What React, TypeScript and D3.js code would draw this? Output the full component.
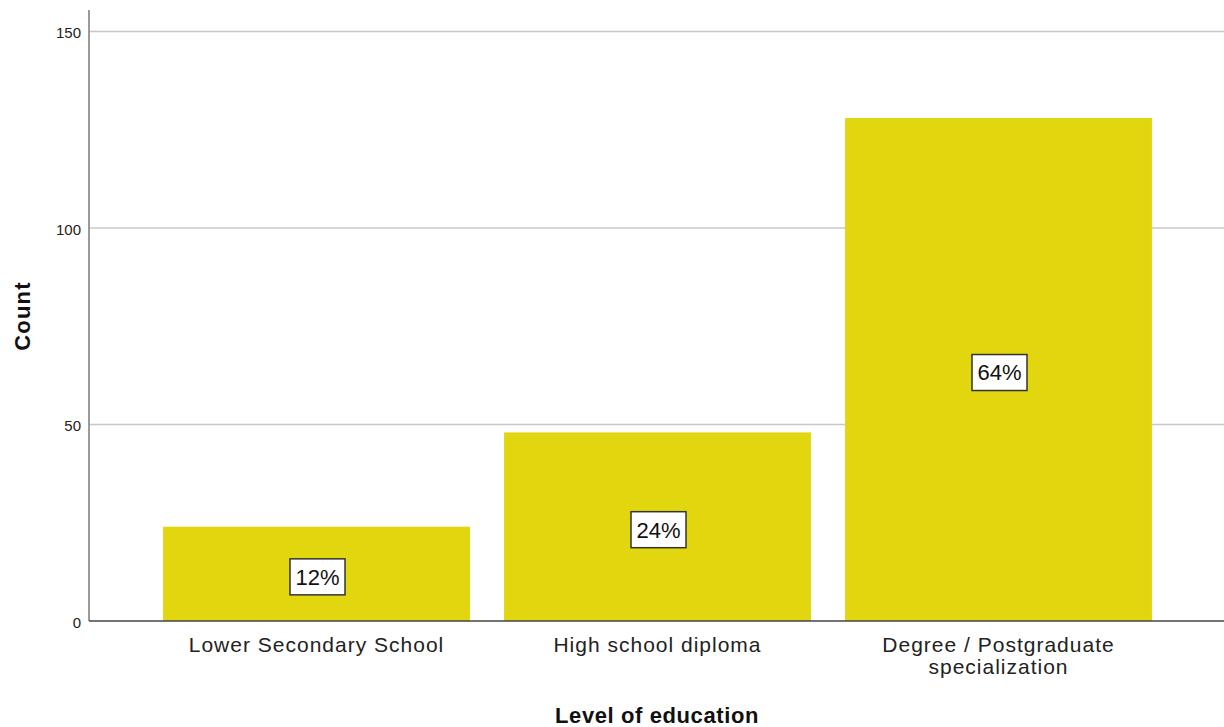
import React from "react";
import * as d3 from "d3";

const categories: string[][] = [
  ["Lower Secondary School"],
  ["High school diploma"],
  ["Degree / Postgraduate", "specialization"],
];
const counts: number[] = [24, 48, 128];
const percentLabels: string[] = ["12%", "24%", "64%"];
const yTicks: number[] = [0, 50, 100, 150];

const W = 1224;
const H = 727;
const FONT = "'Liberation Sans', Arial, sans-serif";

export default function App() {
  const axisX = 89;
  const y = d3.scaleLinear().domain([0, 155.5]).range([621, 10]);
  const x = d3
    .scaleBand<number>()
    .domain(counts.map((_, i) => i))
    .range([146, 1169])
    .paddingInner(0.1)
    .paddingOuter(0.05);

  return (
    <svg
      width={W}
      height={H}
      style={{ position: "absolute", left: 0, top: 0, background: "#fff" }}
      fontFamily={FONT}
    >
      {yTicks.map((t) =>
        t === 0 ? null : (
          <line key={"g" + t} x1={axisX} x2={W} y1={y(t)} y2={y(t)} stroke="#c8c8c8" strokeWidth={1.5} />
        )
      )}
      {yTicks.map((t) => (
        <text key={"t" + t} x={axisX - 8} y={y(t)} dy="0.45em" textAnchor="end" fontSize={15} fill="#222">
          {t}
        </text>
      ))}
      {counts.map((c, i) => (
        <rect
          key={"b" + i}
          x={x(i)!}
          y={y(c)}
          width={x.bandwidth()}
          height={y(0) - y(c)}
          fill="#e2d70f"
        />
      ))}
      <line x1={axisX} x2={axisX} y1={y.range()[1]} y2={y(0)} stroke="#9a9a9a" strokeWidth={2} />
      <line x1={axisX} x2={W} y1={y(0)} y2={y(0)} stroke="#444" strokeWidth={1.5} />
      {counts.map((c, i) => {
        const cx = x(i)! + x.bandwidth() / 2 + 1;
        const cy = (y(c) + y(0)) / 2 + 3;
        const bw = 55;
        const bh = 36;
        return (
          <g key={"l" + i}>
            <rect x={cx - bw / 2} y={cy - bh / 2} width={bw} height={bh} fill="#fff" stroke="#333" strokeWidth={1.5} />
            <text x={cx} y={cy} dy="0.36em" textAnchor="middle" fontSize={22} fill="#111">
              {percentLabels[i]}
            </text>
          </g>
        );
      })}
      {categories.map((lines, i) => {
        const cx = x(i)! + x.bandwidth() / 2;
        return (
          <text key={"c" + i} x={cx} y={652} textAnchor="middle" fontSize={21} letterSpacing={1} fill="#222">
            {lines.map((ln, j) => (
              <tspan key={j} x={cx} dy={j === 0 ? 0 : 22}>
                {ln}
              </tspan>
            ))}
          </text>
        );
      })}
      <text
        transform="translate(30,316) rotate(-90)"
        textAnchor="middle"
        fontSize={22}
        letterSpacing={1.2}
        fontWeight="bold"
        fill="#111"
      >
        Count
      </text>
      <text x={657} y={723} textAnchor="middle" fontSize={22} letterSpacing={0.6} fontWeight="bold" fill="#111">
        Level of education
      </text>
    </svg>
  );
}
